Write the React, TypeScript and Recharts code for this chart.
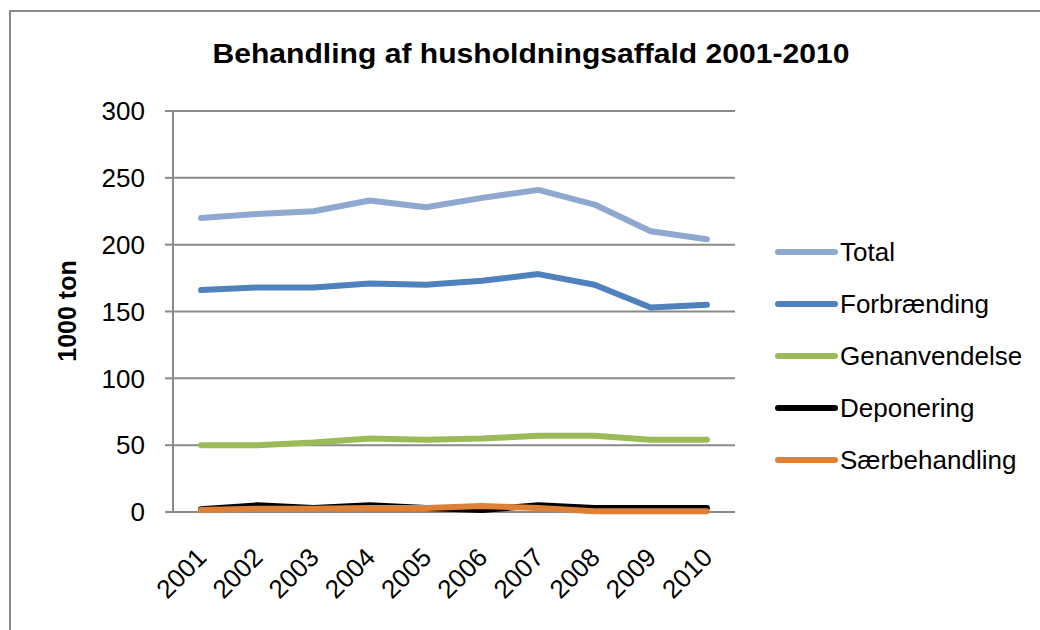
import React from "react";
import { LineChart, Line, XAxis, YAxis, CartesianGrid } from "recharts";

// Behandling af husholdningsaffald 2001-2010 (1000 ton)
const years = ["2001", "2002", "2003", "2004", "2005", "2006", "2007", "2008", "2009", "2010"];
const total = [220, 223, 225, 233, 228, 235, 241, 230, 210, 204];
const forbraending = [166, 168, 168, 171, 170, 173, 178, 170, 153, 155];
const genanvendelse = [50, 50, 52, 55, 54, 55, 57, 57, 54, 54];
const deponering = [2, 5, 3, 5, 3, 1.5, 5, 3, 3, 3];
const saerbehandling = [1.5, 2.5, 2.5, 3, 3, 4.5, 3, 0.5, 0.5, 0.5];
const yTicks = [0, 50, 100, 150, 200, 250, 300];
const slotEdges = [0, 1, 2, 3, 4, 5, 6, 7, 8, 9, 10];

const series = [
  { key: "total", name: "Total", color: "#8EA8CF" },
  { key: "forbraending", name: "Forbrænding", color: "#4F81BD" },
  { key: "genanvendelse", name: "Genanvendelse", color: "#9BBB59" },
  { key: "deponering", name: "Deponering", color: "#000000" },
  { key: "saerbehandling", name: "Særbehandling", color: "#DE8137" },
];

const data = years.map((year, i) => ({
  year,
  slot: i + 0.5,
  total: total[i],
  forbraending: forbraending[i],
  genanvendelse: genanvendelse[i],
  deponering: deponering[i],
  saerbehandling: saerbehandling[i],
}));

const FONT = "'Liberation Sans', Arial, sans-serif";
const GRID = "#8A8A8A";

const YearTick = (props: any) => {
  const { x, y, payload } = props;
  return (
    <text
      x={0}
      y={0}
      transform={`translate(${x + 7},${y + 47}) rotate(-45)`}
      textAnchor="end"
      fontSize={26}
      fontFamily={FONT}
      fill="#000"
    >
      {payload.value}
    </text>
  );
};

export default function App() {
  return (
    <div
      style={{
        position: "absolute",
        left: 0,
        top: 0,
        width: 1040,
        height: 630,
        background: "#fff",
        overflow: "hidden",
      }}
    >
      {/* chart area frame */}
      <div
        style={{
          position: "absolute",
          left: 9,
          top: 10,
          width: 1100,
          height: 700,
          borderLeft: `2px solid ${GRID}`,
          borderTop: `2px solid ${GRID}`,
        }}
      />
      <LineChart
        width={1040}
        height={630}
        data={data}
        margin={{ top: 111, right: 305, bottom: 38, left: 113 }}
        style={{ position: "absolute", left: 0, top: 0 }}
      >
        <CartesianGrid vertical={false} stroke={GRID} strokeWidth={2} xAxisId="edges" />
        <XAxis
          xAxisId="edges"
          dataKey="slot"
          type="number"
          domain={[0, 10]}
          ticks={slotEdges}
          allowDataOverflow
          height={0}
          tick={false}
          tickSize={8}
          axisLine={{ stroke: GRID, strokeWidth: 2 }}
          tickLine={{ stroke: GRID, strokeWidth: 2 }}
        />
        <XAxis
          xAxisId="years"
          dataKey="year"
          scale="band"
          height={80}
          axisLine={false}
          tickLine={false}
          tickSize={0}
          tickMargin={0}
          interval={0}
          tick={<YearTick />}
        />
        <YAxis
          domain={[0, 300]}
          ticks={yTicks}
          width={60}
          tickSize={8}
          tickMargin={20}
          axisLine={{ stroke: GRID, strokeWidth: 2 }}
          tickLine={{ stroke: GRID, strokeWidth: 2 }}
          tick={{ fontSize: 26, fontFamily: FONT, fill: "#000" }}
        />
        {series.map((s) => (
          <Line
            key={s.key}
            xAxisId="years"
            dataKey={s.key}
            name={s.name}
            type="linear"
            stroke={s.color}
            strokeWidth={6}
            strokeLinecap="round"
            strokeLinejoin="round"
            dot={false}
            activeDot={false}
            isAnimationActive={false}
          />
        ))}
      </LineChart>

      {/* title, axis title and legend */}
      <svg
        width={1040}
        height={630}
        style={{ position: "absolute", left: 0, top: 0, pointerEvents: "none" }}
      >
        <text
          x={531}
          y={63}
          textAnchor="middle"
          fontFamily={FONT}
          fontWeight="bold"
          fontSize={28}
          textLength={637}
          lengthAdjust="spacingAndGlyphs"
        >
          Behandling af husholdningsaffald 2001-2010
        </text>
        <text
          x={0}
          y={0}
          transform="translate(76,311) rotate(-90)"
          textAnchor="middle"
          fontFamily={FONT}
          fontWeight="bold"
          fontSize={25}
        >
          1000 ton
        </text>
        {series.map((s, i) => {
          const cy = 252 + i * 52;
          return (
            <g key={s.key}>
              <line x1={778} x2={835} y1={cy} y2={cy} stroke={s.color} strokeWidth={6} strokeLinecap="round" />
              <text x={840} y={cy + 9} fontFamily={FONT} fontSize={26} fill="#000">
                {s.name}
              </text>
            </g>
          );
        })}
      </svg>
    </div>
  );
}
